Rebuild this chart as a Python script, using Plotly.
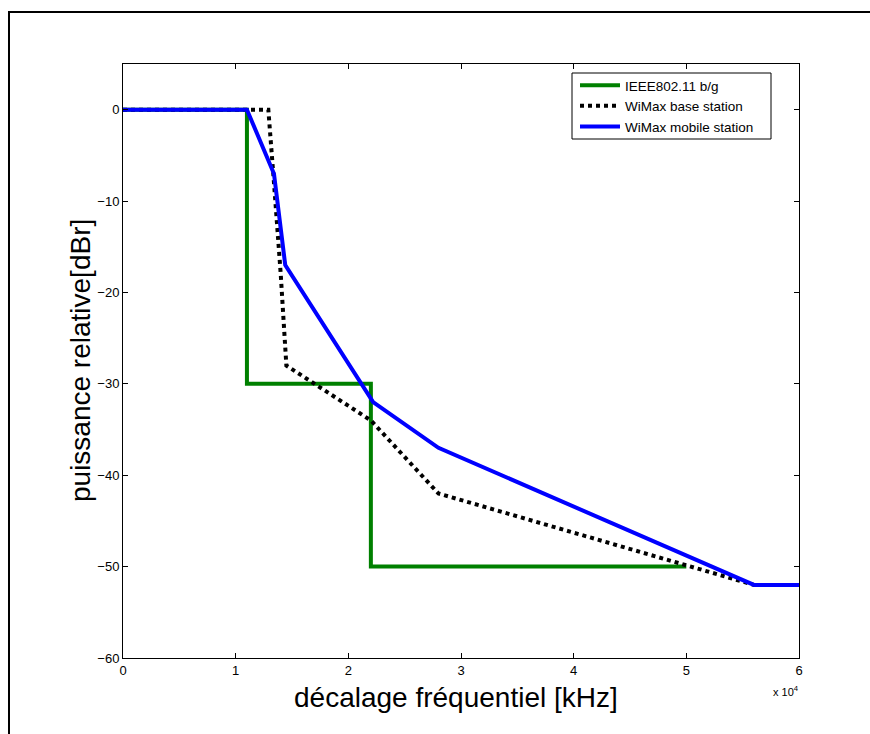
import plotly.graph_objects as go

# Data (frequency offset in Hz, relative power in dBr)
freq_ieee = [0, 11000, 11000, 22000, 22000, 50000]
rel_ieee = [0, 0, -30, -30, -50, -50]

freq_bs = [0, 12900, 13400, 14000, 14500, 22000, 28000, 56000, 60000]
rel_bs = [0, 0, -8, -18, -28, -34, -42, -52, -52]

freq_ms = [0, 11000, 13400, 14400, 22200, 28000, 56000, 60000]
rel_ms = [0, 0, -7, -17, -32, -37, -52, -52]

x_tickvals = [0, 10000, 20000, 30000, 40000, 50000, 60000]
x_ticktext = ["0", "1", "2", "3", "4", "5", "6"]
y_tickvals = [0, -10, -20, -30, -40, -50, -60]

FONT = "Liberation Sans, Arial, sans-serif"

fig = go.Figure()
fig.add_trace(go.Scatter(x=freq_ieee, y=rel_ieee, mode="lines", name="IEEE802.11 b/g",
                         line=dict(color="#008000", width=4)))
fig.add_trace(go.Scatter(x=freq_bs, y=rel_bs, mode="lines", name="WiMax base station",
                         line=dict(color="black", width=4, dash="dot")))
fig.add_trace(go.Scatter(x=freq_ms, y=rel_ms, mode="lines", name="WiMax mobile station",
                         line=dict(color="#0000FF", width=4)))

L, R, T, B = 123, 71, 64, 76
W, H = 870, 734
pw, ph = W - L - R, H - T - B


def px(xp):
    return (xp - L) / pw


def py(yp):
    return (H - B - yp) / ph


fig.update_layout(
    width=W, height=H, autosize=False,
    margin=dict(l=L, r=R, t=T, b=B, pad=0),
    paper_bgcolor="white", plot_bgcolor="white",
    font=dict(family=FONT, color="black", size=13),
    showlegend=True,
    legend=dict(x=px(575), y=py(70), xanchor="left", yanchor="top",
                bgcolor="rgba(0,0,0,0)", borderwidth=0,
                font=dict(size=13.5, family=FONT), itemwidth=40, tracegroupgap=0),
    xaxis=dict(range=[0, 60000], tickvals=x_tickvals, ticktext=x_ticktext,
               ticks="inside", ticklen=5, tickcolor="black", showline=True, linecolor="black",
               linewidth=1, mirror="ticks", showgrid=False, zeroline=False,
               tickfont=dict(size=13)),
    yaxis=dict(range=[-60, 5], tickvals=y_tickvals,
               ticks="inside", ticklen=5, tickcolor="black", showline=True, linecolor="black",
               linewidth=1, mirror="ticks", showgrid=False, zeroline=False,
               tickfont=dict(size=13)),
)

# legend box
fig.add_shape(type="rect", xref="paper", yref="paper", layer="above",
              x0=px(572), x1=px(771), y0=py(139), y1=py(73),
              fillcolor="white", line=dict(color="black", width=1))

# axis titles
fig.add_annotation(x=px(456), y=py(697), xref="paper", yref="paper",
                   xanchor="center", yanchor="middle", showarrow=False,
                   text="décalage fréquentiel [kHz]", font=dict(size=28))
fig.add_annotation(x=px(80), y=py(361), xref="paper", yref="paper",
                   xanchor="center", yanchor="middle", showarrow=False, textangle=-90,
                   text="puissance relative[dBr]", font=dict(size=28))

# axis exponent label
fig.add_annotation(x=px(801), y=py(682), xref="paper", yref="paper", xanchor="right",
                   yanchor="top", text="x 10<sup>4</sup>", showarrow=False,
                   font=dict(size=11))

# outer figure frame (only left and top edges fall inside the picture)
frame_path = "M {:.5f},{:.5f} L {:.5f},{:.5f} L {:.5f},{:.5f}".format(
    px(9), py(740), px(9), py(12), px(875), py(12))
fig.add_shape(type="path", xref="paper", yref="paper", layer="below",
              path=frame_path, line=dict(color="black", width=2))

fig.write_html("out.html")
